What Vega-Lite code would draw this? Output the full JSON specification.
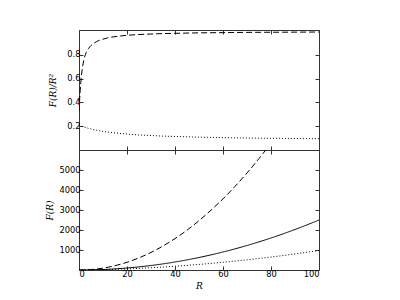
{
  "$schema": "https://vega.github.io/schema/vega-lite/v6.json",
  "autosize": {"type": "pad"},
  "padding": {"left": 45, "top": 29, "right": 0, "bottom": 0},
  "spacing": 0,
  "bounds": "flush",
  "background": "white",
  "config": {
    "view": {"stroke": "#333", "strokeWidth": 1},
    "axis": {
      "grid": false,
      "domain": false,
      "tickColor": "#333",
      "tickSize": -4,
      "labelFont": "DejaVu Sans",
      "labelFontSize": 8.3,
      "labelColor": "black",
      "labelPadding": 3,
      "titleFont": "DejaVu Serif",
      "titleFontStyle": "italic",
      "titleFontWeight": "normal",
      "titleFontSize": 9,
      "titleColor": "black"
    }
  },
  "datasets": {
    "top": [
      {"R": 0, "s": "dashed", "v": 0.327}, {"R": 0.5, "s": "dashed", "v": 0.5}, {"R": 1, "s": "dashed", "v": 0.62}, {"R": 1.5, "s": "dashed", "v": 0.7}, {"R": 2, "s": "dashed", "v": 0.755}, {"R": 3, "s": "dashed", "v": 0.82}, {"R": 4, "s": "dashed", "v": 0.855}, {"R": 5, "s": "dashed", "v": 0.879}, {"R": 6, "s": "dashed", "v": 0.896}, {"R": 8, "s": "dashed", "v": 0.919}, {"R": 10, "s": "dashed", "v": 0.933}, {"R": 12, "s": "dashed", "v": 0.944}, {"R": 15, "s": "dashed", "v": 0.954}, {"R": 20, "s": "dashed", "v": 0.965}, {"R": 25, "s": "dashed", "v": 0.972}, {"R": 30, "s": "dashed", "v": 0.976}, {"R": 35, "s": "dashed", "v": 0.98}, {"R": 40, "s": "dashed", "v": 0.982}, {"R": 50, "s": "dashed", "v": 0.986}, {"R": 60, "s": "dashed", "v": 0.988}, {"R": 70, "s": "dashed", "v": 0.99}, {"R": 80, "s": "dashed", "v": 0.991}, {"R": 90, "s": "dashed", "v": 0.992}, {"R": 100, "s": "dashed", "v": 0.993},
      {"R": 0, "s": "dotted", "v": 0.21}, {"R": 1, "s": "dotted", "v": 0.202}, {"R": 2, "s": "dotted", "v": 0.194}, {"R": 3, "s": "dotted", "v": 0.188}, {"R": 4, "s": "dotted", "v": 0.182}, {"R": 5, "s": "dotted", "v": 0.177}, {"R": 6, "s": "dotted", "v": 0.172}, {"R": 8, "s": "dotted", "v": 0.164}, {"R": 10, "s": "dotted", "v": 0.157}, {"R": 12, "s": "dotted", "v": 0.151}, {"R": 15, "s": "dotted", "v": 0.144}, {"R": 20, "s": "dotted", "v": 0.134}, {"R": 25, "s": "dotted", "v": 0.127}, {"R": 30, "s": "dotted", "v": 0.122}, {"R": 35, "s": "dotted", "v": 0.117}, {"R": 40, "s": "dotted", "v": 0.114}, {"R": 45, "s": "dotted", "v": 0.111}, {"R": 50, "s": "dotted", "v": 0.108}, {"R": 55, "s": "dotted", "v": 0.106}, {"R": 60, "s": "dotted", "v": 0.104}, {"R": 65, "s": "dotted", "v": 0.1025}, {"R": 70, "s": "dotted", "v": 0.101}, {"R": 75, "s": "dotted", "v": 0.0997}, {"R": 80, "s": "dotted", "v": 0.0986}, {"R": 85, "s": "dotted", "v": 0.0975}, {"R": 90, "s": "dotted", "v": 0.0966}, {"R": 95, "s": "dotted", "v": 0.0957}, {"R": 100, "s": "dotted", "v": 0.095}
    ],
    "bottom": [
      {"R": 0, "s": "dashed", "v": 0}, {"R": 5, "s": "dashed", "v": 22}, {"R": 10, "s": "dashed", "v": 93}, {"R": 15, "s": "dashed", "v": 215}, {"R": 20, "s": "dashed", "v": 386}, {"R": 25, "s": "dashed", "v": 608}, {"R": 30, "s": "dashed", "v": 878}, {"R": 35, "s": "dashed", "v": 1200}, {"R": 40, "s": "dashed", "v": 1571}, {"R": 45, "s": "dashed", "v": 1990}, {"R": 50, "s": "dashed", "v": 2465}, {"R": 55, "s": "dashed", "v": 2990}, {"R": 60, "s": "dashed", "v": 3557}, {"R": 65, "s": "dashed", "v": 4180}, {"R": 70, "s": "dashed", "v": 4851}, {"R": 75, "s": "dashed", "v": 5573}, {"R": 80, "s": "dashed", "v": 6342}, {"R": 85, "s": "dashed", "v": 7160},
      {"R": 0, "s": "solid", "v": 0}, {"R": 5, "s": "solid", "v": 6.25}, {"R": 10, "s": "solid", "v": 25}, {"R": 15, "s": "solid", "v": 56}, {"R": 20, "s": "solid", "v": 100}, {"R": 25, "s": "solid", "v": 156}, {"R": 30, "s": "solid", "v": 225}, {"R": 35, "s": "solid", "v": 306}, {"R": 40, "s": "solid", "v": 400}, {"R": 45, "s": "solid", "v": 506}, {"R": 50, "s": "solid", "v": 625}, {"R": 55, "s": "solid", "v": 756}, {"R": 60, "s": "solid", "v": 900}, {"R": 65, "s": "solid", "v": 1056}, {"R": 70, "s": "solid", "v": 1225}, {"R": 75, "s": "solid", "v": 1406}, {"R": 80, "s": "solid", "v": 1600}, {"R": 85, "s": "solid", "v": 1806}, {"R": 90, "s": "solid", "v": 2025}, {"R": 95, "s": "solid", "v": 2256}, {"R": 100, "s": "solid", "v": 2500},
      {"R": 0, "s": "dotted", "v": 0}, {"R": 5, "s": "dotted", "v": 4.5}, {"R": 10, "s": "dotted", "v": 16}, {"R": 15, "s": "dotted", "v": 33}, {"R": 20, "s": "dotted", "v": 55}, {"R": 25, "s": "dotted", "v": 81}, {"R": 30, "s": "dotted", "v": 112}, {"R": 35, "s": "dotted", "v": 147}, {"R": 40, "s": "dotted", "v": 187}, {"R": 45, "s": "dotted", "v": 231}, {"R": 50, "s": "dotted", "v": 278}, {"R": 55, "s": "dotted", "v": 330}, {"R": 60, "s": "dotted", "v": 385}, {"R": 65, "s": "dotted", "v": 445}, {"R": 70, "s": "dotted", "v": 508}, {"R": 75, "s": "dotted", "v": 576}, {"R": 80, "s": "dotted", "v": 648}, {"R": 85, "s": "dotted", "v": 723}, {"R": 90, "s": "dotted", "v": 803}, {"R": 95, "s": "dotted", "v": 888}, {"R": 100, "s": "dotted", "v": 975}
    ]
  },
  "vconcat": [
    {
      "width": 240,
      "height": 120,
      "data": {"name": "top"},
      "resolve": {"axis": {"x": "independent", "y": "independent"}},
      "layer": [
        {
          "mark": {"type": "line", "clip": true, "interpolate": "monotone", "strokeWidth": 1, "color": "black"},
          "encoding": {
            "x": {"field": "R", "type": "quantitative", "scale": {"domain": [0, 100], "nice": false, "zero": false}, "axis": {"values": [0, 20, 40, 60, 80, 100], "labels": false, "title": null}},
            "y": {"field": "v", "type": "quantitative", "scale": {"domain": [0, 1.01], "nice": false}, "axis": {"values": [0.2, 0.4, 0.6, 0.8], "format": ".1f", "title": "F(R)/R²", "titlePadding": 9}},
            "strokeDash": {"field": "s", "type": "nominal", "scale": {"domain": ["solid", "dashed", "dotted"], "range": [[1, 0], [6, 3], [1, 2]]}, "legend": null}
          }
        },
        {
          "mark": {"type": "line", "clip": true, "opacity": 0},
          "encoding": {
            "x": {"field": "R", "type": "quantitative", "axis": {"orient": "top", "values": [0, 20, 40, 60, 80, 100], "labels": false, "title": null}},
            "y": {"field": "v", "type": "quantitative", "axis": {"orient": "right", "values": [0.2, 0.4, 0.6, 0.8], "labels": false, "title": null}},
            "detail": {"field": "s"}
          }
        }
      ]
    },
    {
      "width": 240,
      "height": 120,
      "data": {"name": "bottom"},
      "resolve": {"axis": {"x": "independent", "y": "independent"}},
      "layer": [
        {
          "mark": {"type": "line", "clip": true, "interpolate": "monotone", "strokeWidth": 1, "color": "black"},
          "encoding": {
            "x": {"field": "R", "type": "quantitative", "scale": {"domain": [0, 100], "nice": false, "zero": false}, "axis": {"values": [0, 20, 40, 60, 80, 100], "title": "R", "titlePadding": 4}},
            "y": {"field": "v", "type": "quantitative", "scale": {"domain": [0, 6000], "nice": false}, "axis": {"values": [1000, 2000, 3000, 4000, 5000], "format": "d", "title": "F(R)", "titlePadding": 4}},
            "strokeDash": {"field": "s", "type": "nominal", "scale": {"domain": ["solid", "dashed", "dotted"], "range": [[1, 0], [6, 3], [1, 2]]}, "legend": null}
          }
        },
        {
          "mark": {"type": "line", "clip": true, "opacity": 0},
          "encoding": {
            "x": {"field": "R", "type": "quantitative", "axis": {"orient": "top", "values": [0, 20, 40, 60, 80, 100], "labels": false, "title": null}},
            "y": {"field": "v", "type": "quantitative", "axis": {"orient": "right", "values": [1000, 2000, 3000, 4000, 5000], "labels": false, "title": null}},
            "detail": {"field": "s"}
          }
        }
      ]
    }
  ]
}
